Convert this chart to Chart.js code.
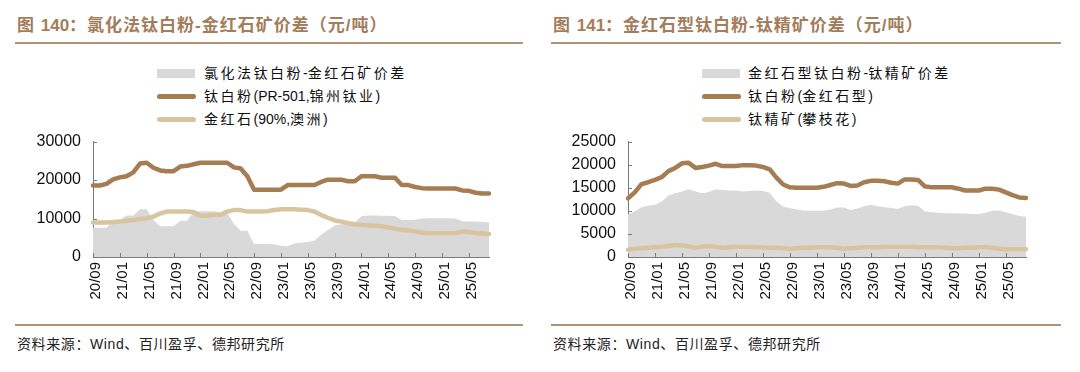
<!DOCTYPE html>
<html><head><meta charset="utf-8">
<script src="https://cdn.jsdelivr.net/npm/chart.js@4.4.1/dist/chart.umd.min.js"></script>
<style>
body{margin:0;width:1080px;height:372px;background:#fff;position:relative;overflow:hidden;font-family:"Liberation Sans","Noto Sans CJK SC",sans-serif;}
.title{position:absolute;top:15px;font-size:17px;font-weight:bold;color:#a37d5c;white-space:nowrap;line-height:22px;letter-spacing:1px;}
.title span{letter-spacing:0;}
.rule{position:absolute;height:2px;background:#b39174;}
.row{position:absolute;white-space:nowrap;font-size:14px;line-height:20px;height:20px;color:#111;letter-spacing:2.5px;}
.row span{letter-spacing:0;}
.sw{position:absolute;}
.src{position:absolute;top:333px;font-size:14px;color:#222;white-space:nowrap;letter-spacing:0.6px;}
canvas{position:absolute;}
</style></head>
<body>
<div class="title" style="left:17px">图 <span>140</span>：氯化法钛白粉-金红石矿价差（元/吨）</div>
<div class="rule" style="left:15px;width:508px;top:42px"></div>
<div class="title" style="left:553px">图 <span>141</span>：金红石型钛白粉-钛精矿价差（元/吨）</div>
<div class="rule" style="left:551px;width:510px;top:42px"></div>
<div id="legL"></div>
<div id="legR"></div>
<canvas id="cL" width="520" height="200" style="left:0;top:120px"></canvas>
<canvas id="cR" width="520" height="200" style="left:540px;top:120px"></canvas>
<div class="rule" style="left:15px;width:508px;top:324px"></div>
<div class="rule" style="left:551px;width:510px;top:324px"></div>
<div class="src" style="left:17px">资料来源：Wind、百川盈孚、德邦研究所</div>
<div class="src" style="left:553px">资料来源：Wind、百川盈孚、德邦研究所</div>
<script>
const months = ["20/09","20/10","20/11","20/12","21/01","21/02","21/03","21/04","21/05","21/06","21/07","21/08","21/09","21/10","21/11","21/12","22/01","22/02","22/03","22/04","22/05","22/06","22/07","22/08","22/09","22/10","22/11","22/12","23/01","23/02","23/03","23/04","23/05","23/06","23/07","23/08","23/09","23/10","23/11","23/12","24/01","24/02","24/03","24/04","24/05","24/06","24/07","24/08","24/09","24/10","24/11","24/12","25/01","25/02","25/03","25/04","25/05","25/06","25/07","25/08"];
const tickLabels = ["20/09","21/01","21/05","21/09","22/01","22/05","22/09","23/01","23/05","23/09","24/01","24/05","24/09","25/01","25/05"];

// Left chart: 氯化法钛白粉-金红石矿价差
const leftNames = ["氯化法钛白粉-金红石矿价差","钛白粉(PR-501,锦州钛业)","金红石(90%,澳洲)"];
const leftSpread = [7600,7600,7600,9600,9600,10800,10800,12400,12400,9600,8000,8000,8000,9400,9400,11800,11900,11900,11900,11600,11500,8600,6800,6800,3400,3400,3400,3300,2900,2800,3500,3700,3900,4300,5800,7000,8200,8500,8700,9000,10600,10800,10800,10700,10700,10600,9600,9600,9700,10000,10100,10100,10100,10100,10000,9300,9200,9200,9100,9000];
const leftTiO2 = [18600,18600,19000,20200,20700,21000,22000,24300,24500,23200,22500,22300,22300,23500,23700,24100,24500,24500,24500,24500,24500,23300,23000,21000,17500,17500,17500,17500,17500,18700,18700,18700,18700,18700,19500,20100,20100,20100,19700,19700,21000,21000,21000,20600,20600,20600,18700,18700,18200,17900,17800,17800,17800,17800,17800,17300,17200,16700,16500,16500];
const leftRutile = [9000,9000,9000,9100,9200,9400,9600,9900,10100,10500,11300,11800,11800,11800,11800,11700,10700,10800,11000,11000,11800,12200,12200,11800,11800,11800,11900,12200,12400,12400,12400,12300,12200,11800,10900,10200,9500,9200,8800,8500,8300,8200,8100,8000,7700,7300,7100,6900,6700,6300,6200,6200,6200,6200,6200,6600,6500,6200,6100,6000];
const leftYTicks = [0,10000,20000,30000];

// Right chart: 金红石型钛白粉-钛精矿价差
const rightNames = ["金红石型钛白粉-钛精矿价差","钛白粉(金红石型)","钛精矿(攀枝花)"];
const rightSpread = [9200,9900,10800,11100,11300,12000,13300,13800,14200,14700,14200,13800,14100,14600,14500,14400,14400,14200,14300,14400,14300,13900,12000,10900,10600,10300,10100,10000,10000,10000,10300,10700,10700,10200,10500,11000,11300,11000,10800,10600,10400,11000,11200,11100,9900,9700,9600,9500,9500,9400,9400,9300,9300,9600,10000,10100,9700,9300,8900,8700];
const rightTiO2 = [12700,14000,15800,16200,16700,17300,18600,19300,20300,20400,19300,19500,19800,20200,19700,19700,19700,19900,19900,19800,19500,19000,17200,15700,15100,15000,15000,15000,15000,15200,15600,16000,15900,15400,15500,16200,16500,16500,16400,16100,15900,16800,16800,16700,15300,15100,15100,15100,15100,14800,14400,14400,14400,14800,14800,14600,14000,13400,12900,12800];
const rightIlmenite = [1600,1800,1900,2000,2100,2200,2400,2600,2500,2300,2000,2300,2400,2200,2000,2100,2200,2200,2200,2100,2100,2000,2000,1900,1800,1900,2000,2000,2100,2100,2100,2000,1800,1900,2000,2100,2100,2100,2200,2200,2200,2200,2200,2100,2100,2100,2100,2000,1900,1900,2000,2000,2100,2100,2000,1800,1700,1700,1700,1700];
const rightYTicks = [0,5000,10000,15000,20000,25000];

const C_GRAY = '#d9d9d9', C_BROWN = '#a67c52', C_GOLD = '#d8c59f', AXIS = '#7a7a7a';
const FONT = '"Liberation Sans","Noto Sans CJK SC",sans-serif';

function spaced(t){ return t.replace(/([\x20-\x7e]+)/g,'<span>$1</span>'); }
function legend(el, names, left, textLeft){
  const colors=[C_GRAY,C_BROWN,C_GOLD];
  const tops=[63,86,109];
  let h='';
  names.forEach((n,i)=>{
    if(i===0){
      h+=`<div class="sw" style="left:${left}px;top:${tops[i]+6}px;width:38px;height:9px;background:${colors[i]}"></div>`;
    } else {
      h+=`<div class="sw" style="left:${left}px;top:${tops[i]+8}px;width:39px;height:5px;border-radius:3px;background:${colors[i]}"></div>`;
    }
    h+=`<div class="row" style="left:${textLeft}px;top:${tops[i]}px">${spaced(n)}</div>`;
  });
  document.getElementById(el).innerHTML=h;
}
legend('legL',leftNames,157,204);
legend('legR',rightNames,702,748);

const innerTicks = {
  id:'innerTicks',
  afterDatasetsDraw(chart){
    const {ctx, chartArea:a, scales:{x,y}} = chart;
    ctx.save();
    ctx.strokeStyle=AXIS; ctx.lineWidth=1;
    ctx.beginPath();
    x.ticks.forEach((t,i)=>{
      if(!tickLabels.includes(months[i])) return;
      const px=Math.round(x.getPixelForTick(i))+0.5;
      ctx.moveTo(px,a.bottom); ctx.lineTo(px,a.bottom-4);
    });
    y.ticks.forEach((t,i)=>{
      const py=Math.round(y.getPixelForTick(i))+0.5;
      ctx.moveTo(a.left,py); ctx.lineTo(a.left+4,py);
    });
    ctx.stroke();
    ctx.restore();
  }
};

function makeChart(id, names, spread, tio2, ore, yTicks, yW, padTop, padRight, labelOffset){
  return new Chart(document.getElementById(id), {
    type:'line',
    data:{
      labels:months,
      datasets:[
        {label:names[0], data:spread, fill:'origin', backgroundColor:C_GRAY, borderWidth:0, pointRadius:0, order:3},
        {label:names[1], data:tio2, borderColor:C_BROWN, borderWidth:4.5, pointRadius:0, fill:false, borderJoinStyle:'round', borderCapStyle:'round', order:2},
        {label:names[2], data:ore, borderColor:C_GOLD, borderWidth:4.5, pointRadius:0, fill:false, borderJoinStyle:'round', borderCapStyle:'round', order:1}
      ]
    },
    options:{
      responsive:false, animation:false, devicePixelRatio:1,
      layout:{padding:{top:padTop,right:padRight,left:0,bottom:0}},
      plugins:{legend:{display:false}, tooltip:{enabled:false}},
      elements:{line:{tension:0}},
      scales:{
        x:{
          type:'category', offset:false,
          grid:{display:false, drawTicks:false},
          border:{display:true,color:AXIS,width:1},
          ticks:{autoSkip:false,maxRotation:90,minRotation:90,padding:5,labelOffset:labelOffset,color:'#111',
            font:{size:15,family:FONT},
            callback:(v,i)=> tickLabels.includes(months[i]) ? months[i] : ''},
          afterFit:s=>{s.height=63;}
        },
        y:{
          min:yTicks[0], max:yTicks[yTicks.length-1],
          afterBuildTicks:s=>{s.ticks=yTicks.map(v=>({value:v}));},
          grid:{display:false, drawTicks:false},
          border:{display:true,color:AXIS,width:1},
          ticks:{padding:12,color:'#111',font:{size:16,family:FONT},callback:v=>String(v)},
          afterFit:s=>{s.width=yW;}
        }
      }
    },
    plugins:[innerTicks]
  });
}
makeChart('cL',leftNames,leftSpread,leftTiO2,leftRutile,leftYTicks,93,11,31,3);
makeChart('cR',rightNames,rightSpread,rightTiO2,rightIlmenite,rightYTicks,88,7,34,3);
</script>
</body></html>
